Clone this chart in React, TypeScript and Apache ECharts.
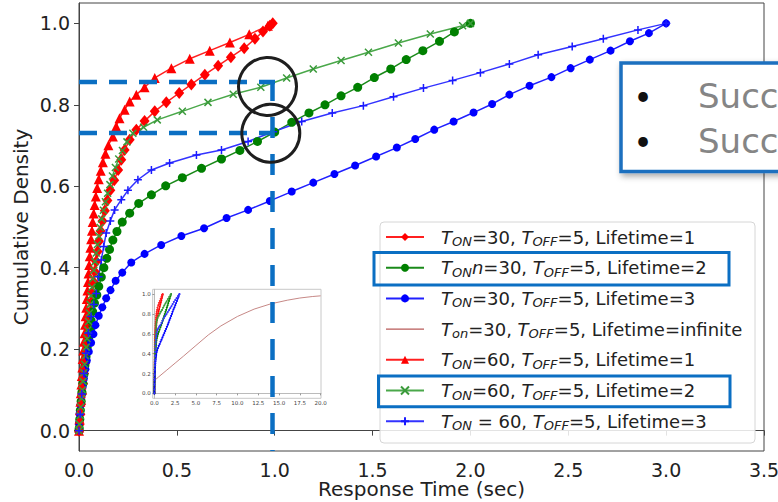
import React, { useEffect, useRef } from 'react';
import * as echarts from 'echarts';

const F = 'DejaVu Sans';

const xTicks = [0, 0.5, 1, 1.5, 2, 2.5, 3, 3.5];
const yTicks = [0, 0.2, 0.4, 0.6, 0.8, 1.0];
const insetXTicks = [0, 2.5, 5, 7.5, 10, 12.5, 15, 17.5, 20];
const insetYTicks = [0, 0.2, 0.4, 0.6, 0.8, 1.0];

const legendNames = [
  'TON=30, TOFF=5, Lifetime=1',
  'TONn=30, TOFF=5, Lifetime=2',
  'TON=30, TOFF=5, Lifetime=3',
  'Ton=30, TOFF=5, Lifetime=infinite',
  'TON=60, TOFF=5, Lifetime=1',
  'TON=60, TOFF=5, Lifetime=2',
  'TON = 60, TOFF=5, Lifetime=3',
];
const legendRich = [
  '{sp| }{i|T}{s|ON}=30, {i|T}{s|OFF}=5, Lifetime=1',
  '{sp| }{i|T}{s|ON}{i|n}=30, {i|T}{s|OFF}=5, Lifetime=2',
  '{sp| }{i|T}{s|ON}=30, {i|T}{s|OFF}=5, Lifetime=3',
  '{sp| }{i|T}{s|on}=30, {i|T}{s|OFF}=5, Lifetime=infinite',
  '{sp| }{i|T}{s|ON}=60, {i|T}{s|OFF}=5, Lifetime=1',
  '{sp| }{i|T}{s|ON}=60, {i|T}{s|OFF}=5, Lifetime=2',
  '{sp| }{i|T}{s|ON} = 60, {i|T}{s|OFF}=5, Lifetime=3',
];

const redDiamond = [
  [0, 0], [0.003, 0.015], [0.007, 0.04], [0.011, 0.065], [0.016, 0.09], [0.021, 0.115],
  [0.026, 0.14], [0.031, 0.165], [0.036, 0.19], [0.041, 0.215], [0.046, 0.24], [0.051, 0.265],
  [0.057, 0.29], [0.063, 0.315], [0.069, 0.34], [0.075, 0.365], [0.081, 0.39], [0.088, 0.415],
  [0.095, 0.44], [0.102, 0.465], [0.11, 0.49], [0.12, 0.515], [0.132, 0.54], [0.145, 0.565],
  [0.16, 0.59], [0.18, 0.615], [0.2, 0.64], [0.216, 0.665], [0.233, 0.689], [0.259, 0.714],
  [0.293, 0.739], [0.335, 0.76], [0.387, 0.784], [0.446, 0.806], [0.512, 0.829], [0.574, 0.85],
  [0.643, 0.874], [0.711, 0.896], [0.776, 0.917], [0.844, 0.939], [0.899, 0.962], [0.94, 0.98],
  [0.975, 0.994], [0.99, 1.0],
];

const greenCircle = [
  [0, 0], [0.001, 0.006], [0.004, 0.028], [0.007, 0.05], [0.011, 0.072], [0.015, 0.094],
  [0.02, 0.116], [0.025, 0.138], [0.03, 0.16], [0.036, 0.182], [0.042, 0.204], [0.048, 0.226],
  [0.055, 0.248], [0.062, 0.27], [0.07, 0.292], [0.079, 0.313], [0.091, 0.333], [0.101, 0.354],
  [0.114, 0.377], [0.127, 0.4], [0.142, 0.423], [0.156, 0.445], [0.173, 0.468], [0.194, 0.489],
  [0.221, 0.512], [0.259, 0.534], [0.305, 0.558], [0.37, 0.579], [0.443, 0.601], [0.528, 0.621],
  [0.626, 0.644], [0.728, 0.667], [0.822, 0.688], [0.912, 0.71], [1.0, 0.733], [1.087, 0.757],
  [1.175, 0.78], [1.257, 0.8], [1.339, 0.822], [1.424, 0.843], [1.509, 0.867], [1.593, 0.888],
  [1.672, 0.911], [1.757, 0.933], [1.842, 0.956], [1.918, 0.979], [2.0, 1.0],
];

const blueCircle = [
  [0, 0], [0.0, 0.019], [0.003, 0.042], [0.008, 0.063], [0.013, 0.085], [0.019, 0.108],
  [0.025, 0.128], [0.033, 0.151], [0.04, 0.172], [0.05, 0.194], [0.062, 0.216], [0.074, 0.237],
  [0.084, 0.259], [0.101, 0.282], [0.119, 0.303], [0.139, 0.325], [0.161, 0.345], [0.187, 0.368],
  [0.221, 0.388], [0.267, 0.413], [0.335, 0.434], [0.42, 0.456], [0.523, 0.478], [0.639, 0.497],
  [0.754, 0.522], [0.864, 0.542], [0.975, 0.564], [1.087, 0.587], [1.197, 0.609], [1.305, 0.63],
  [1.411, 0.651], [1.518, 0.673], [1.624, 0.695], [1.718, 0.716], [1.815, 0.739], [1.914, 0.759],
  [2.016, 0.781], [2.111, 0.802], [2.199, 0.825], [2.302, 0.847], [2.414, 0.868], [2.512, 0.89],
  [2.61, 0.911], [2.716, 0.933], [2.815, 0.956], [2.912, 0.976], [3.0, 1.0],
];

const infinite = [
  [0, 0], [0.02, 0.13], [0.5, 0.165], [1.5, 0.235], [2.5, 0.305], [3.5, 0.375], [5, 0.483],
  [6.5, 0.59], [8, 0.68], [10, 0.776], [12, 0.85], [14, 0.903], [16, 0.94], [17.5, 0.962],
  [19, 0.977], [20, 0.984],
];

const redTriangle = [
  [0, 0], [0.001, 0.008], [0.003, 0.029], [0.005, 0.05], [0.007, 0.071], [0.009, 0.092],
  [0.012, 0.113], [0.014, 0.134], [0.017, 0.155], [0.019, 0.176], [0.022, 0.197], [0.025, 0.218],
  [0.028, 0.239], [0.031, 0.26], [0.034, 0.281], [0.037, 0.302], [0.04, 0.323], [0.043, 0.344],
  [0.046, 0.365], [0.049, 0.386], [0.052, 0.407], [0.055, 0.428], [0.058, 0.449], [0.062, 0.47],
  [0.066, 0.491], [0.07, 0.512], [0.075, 0.533], [0.08, 0.554], [0.086, 0.575], [0.093, 0.596],
  [0.101, 0.617], [0.111, 0.638], [0.122, 0.659], [0.135, 0.68], [0.15, 0.701], [0.173, 0.722],
  [0.19, 0.747], [0.207, 0.767], [0.233, 0.788], [0.259, 0.808], [0.293, 0.825], [0.335, 0.843],
  [0.387, 0.866], [0.472, 0.89], [0.566, 0.913], [0.668, 0.933], [0.771, 0.953], [0.87, 0.973],
  [0.965, 0.994],
];

const greenCross = [
  [0, 0], [0.002, 0.016], [0.006, 0.037], [0.009, 0.058], [0.013, 0.079], [0.017, 0.1],
  [0.021, 0.121], [0.025, 0.142], [0.029, 0.163], [0.033, 0.184], [0.037, 0.205], [0.041, 0.226],
  [0.045, 0.247], [0.049, 0.268], [0.053, 0.289], [0.057, 0.31], [0.061, 0.331], [0.066, 0.352],
  [0.071, 0.373], [0.076, 0.394], [0.082, 0.415], [0.088, 0.436], [0.094, 0.457], [0.101, 0.478],
  [0.108, 0.499], [0.116, 0.52], [0.125, 0.541], [0.135, 0.562], [0.146, 0.583], [0.158, 0.604],
  [0.171, 0.625], [0.186, 0.646], [0.203, 0.667], [0.222, 0.688], [0.245, 0.709], [0.275, 0.73],
  [0.33, 0.745], [0.4, 0.763], [0.528, 0.784], [0.659, 0.806], [0.788, 0.826], [0.929, 0.843],
  [1.061, 0.866], [1.197, 0.888], [1.339, 0.909], [1.479, 0.929], [1.632, 0.952], [1.795, 0.974],
  [1.96, 0.994], [2.0, 1.0],
];

const bluePlus = [
  [0, 0], [0.006, 0.04], [0.014, 0.09], [0.024, 0.14], [0.035, 0.19], [0.048, 0.24],
  [0.062, 0.28], [0.076, 0.31], [0.088, 0.337], [0.1, 0.378], [0.114, 0.419], [0.126, 0.452],
  [0.139, 0.485], [0.16, 0.515], [0.182, 0.542], [0.216, 0.567], [0.25, 0.59], [0.301, 0.616],
  [0.37, 0.64], [0.463, 0.657], [0.6, 0.677], [0.728, 0.689], [0.864, 0.71], [0.992, 0.734],
  [1.138, 0.759], [1.294, 0.78], [1.453, 0.798], [1.607, 0.82], [1.76, 0.841], [1.909, 0.86],
  [2.051, 0.879], [2.199, 0.9], [2.346, 0.923], [2.52, 0.943], [2.679, 0.962], [2.856, 0.984],
  [3.0, 1.0],
];

const CROSS = 'path://M0 0L10 10M10 0L0 10';
const PLUS = 'path://M5 0L5 10M0 5L10 5';

function mainLine(name: string, data: number[][], color: string, lineColor: string, symbol: string, size: any, stroke = false) {
  return {
    type: 'line',
    name,
    xAxisIndex: 0,
    yAxisIndex: 0,
    data,
    symbol,
    symbolSize: size,
    showAllSymbol: true,
    lineStyle: { color: lineColor, width: 1.5 },
    itemStyle: stroke
      ? { color, borderColor: color, borderWidth: 1.5 }
      : { color, borderWidth: 0 },
    emphasis: { disabled: true },
    z: 2,
  };
}

function insetLine(name: string, data: number[][], color: string) {
  return {
    type: 'line',
    name,
    xAxisIndex: 1,
    yAxisIndex: 1,
    data,
    symbol: 'circle',
    symbolSize: 2,
    showAllSymbol: true,
    lineStyle: { color, width: 0.8 },
    itemStyle: { color, borderWidth: 0 },
    emphasis: { disabled: true },
    z: 3,
  };
}

export default function App() {
  const ref = useRef<HTMLDivElement>(null);
  useEffect(() => {
    const chart = echarts.init(ref.current!, null, { renderer: 'svg', width: 778, height: 502 });
    const richMap: Record<string, string> = {};
    legendNames.forEach((n, i) => (richMap[n] = legendRich[i]));
    const blue = '#0b6fc3';
    const option: any = {
      animation: false,
      backgroundColor: '#ffffff',
      grid: [
        { left: 79, top: 3, width: 685, height: 448, show: true, borderColor: '#444', borderWidth: 1, containLabel: false, outerBoundsMode: 'none' },
        { left: 152.7, top: 289.3, width: 168.3, height: 109, show: true, borderColor: '#c8c8c8', borderWidth: 1, backgroundColor: '#ffffff', containLabel: false, outerBoundsMode: 'none' },
      ],
      xAxis: [
        {
          type: 'value', gridIndex: 0, min: 0, max: 3.5,
          axisLine: { show: true, lineStyle: { color: '#444' } },
          axisTick: { show: true, length: 5, customValues: xTicks, lineStyle: { color: '#444' } },
          axisLabel: { customValues: xTicks, formatter: (v: number) => v.toFixed(1), fontSize: 19, lineHeight: 19, color: '#222', fontFamily: F, margin: 9 },
          splitLine: { show: false },
          name: 'Response Time (sec)', nameLocation: 'middle', nameGap: 28, nameMoveOverlap: false,
          nameTextStyle: { fontSize: 20, fontFamily: F, color: '#222', lineHeight: 20 },
        },
        {
          type: 'value', gridIndex: 1, min: -0.2, max: 20.05,
          axisLine: { show: true, lineStyle: { color: '#bbb' } },
          axisTick: { show: true, length: 2, customValues: insetXTicks, lineStyle: { color: '#999' } },
          axisLabel: { customValues: insetXTicks, formatter: (v: number) => v.toFixed(1), fontSize: 5.5, color: '#444', fontFamily: F, margin: 2 },
          splitLine: { show: false },
        },
      ],
      yAxis: [
        {
          type: 'value', gridIndex: 0, min: -0.05, max: 1.05,
          axisLine: { show: true, lineStyle: { color: '#444' } },
          axisTick: { show: true, length: 5, customValues: yTicks, lineStyle: { color: '#444' } },
          axisLabel: { customValues: yTicks, formatter: (v: number) => v.toFixed(1), fontSize: 19, color: '#222', fontFamily: F, margin: 9 },
          splitLine: { show: false },
          name: 'Cumulative Density', nameLocation: 'middle', nameGap: 48, nameMoveOverlap: false,
          nameTextStyle: { fontSize: 20, fontFamily: F, color: '#222' },
        },
        {
          type: 'value', gridIndex: 1, min: -0.05, max: 1.05,
          axisLine: { show: true, lineStyle: { color: '#bbb' } },
          axisTick: { show: true, length: 2, customValues: insetYTicks, lineStyle: { color: '#999' } },
          axisLabel: { customValues: insetYTicks, formatter: (v: number) => v.toFixed(1), fontSize: 5.5, color: '#444', fontFamily: F, margin: 2 },
          splitLine: { show: false },
        },
      ],
      legend: {
        orient: 'vertical',
        left: 385,
        top: 226,
        padding: 0,
        itemGap: 8.7,
        itemWidth: 38,
        itemHeight: 10,
        selectedMode: false,
        z: 6,
        data: legendNames.map((n, i) =>
          i === 3 ? { name: n, icon: 'path://M0 0H40V1.4H0Z' } : { name: n }
        ),
        formatter: (name: string) => richMap[name] || name,
        textStyle: {
          fontSize: 18, fontFamily: F, color: '#222', lineHeight: 22,
          rich: {
            sp: { width: 12 },
            i: { fontStyle: 'italic', fontSize: 18, fontFamily: F, color: '#222', lineHeight: 22 },
            s: { fontStyle: 'italic', fontSize: 13, fontFamily: F, color: '#222', verticalAlign: 'bottom', lineHeight: 12 },
          },
        },
      },
      series: [
        mainLine(legendNames[0], redDiamond, '#ff0000', '#ff2020', 'diamond', [10, 12]),
        mainLine(legendNames[1], greenCircle, '#008000', '#1a8a1a', 'circle', 9),
        mainLine(legendNames[2], blueCircle, '#0000ff', '#2020ff', 'circle', 8),
        {
          type: 'line', name: legendNames[3], xAxisIndex: 1, yAxisIndex: 1, data: infinite,
          symbol: 'none', lineStyle: { color: '#c07a78', width: 0.9 }, itemStyle: { color: '#b85a58' },
          emphasis: { disabled: true }, z: 3,
        },
        mainLine(legendNames[4], redTriangle, '#ff0000', '#ff2020', 'triangle', 10),
        mainLine(legendNames[5], greenCross, '#3a9a3a', '#4aa84a', CROSS, 7, true),
        mainLine(legendNames[6], bluePlus, '#1a1aff', '#3333ff', PLUS, 8, true),
        insetLine('i-redDiamond', redDiamond, '#ff0000'),
        insetLine('i-redTriangle', redTriangle, '#ff2020'),
        insetLine('i-greenCircle', greenCircle, '#008000'),
        insetLine('i-greenCross', greenCross, '#3a9a3a'),
        insetLine('i-blueCircle', blueCircle, '#0000ff'),
        insetLine('i-bluePlus', bluePlus, '#3333ff'),
      ],
      graphic: {
        elements: [
          {
            type: 'rect', z: 4, silent: true,
            shape: { x: 380, y: 222, width: 375, height: 221, r: 4 },
            style: { fill: 'rgba(255,255,255,0.85)', stroke: '#d6d6d6', lineWidth: 1 },
          },
          {
            type: 'rect', z: 30, silent: true,
            shape: { x: 374, y: 252.5, width: 355, height: 32.5 },
            style: { fill: 'none', stroke: blue, lineWidth: 3 },
          },
          {
            type: 'rect', z: 30, silent: true,
            shape: { x: 378.5, y: 376, width: 351.5, height: 30.7 },
            style: { fill: 'none', stroke: blue, lineWidth: 3 },
          },
          {
            type: 'line', z: 30, silent: true,
            shape: { x1: 79, y1: 82, x2: 275, y2: 82 },
            style: { stroke: blue, lineWidth: 4.5, lineDash: [18, 12] },
          },
          {
            type: 'line', z: 30, silent: true,
            shape: { x1: 79, y1: 133, x2: 272, y2: 133 },
            style: { stroke: blue, lineWidth: 4.5, lineDash: [18, 12] },
          },
          {
            type: 'line', z: 30, silent: true,
            shape: { x1: 272.5, y1: 80, x2: 272.5, y2: 451 },
            style: { stroke: blue, lineWidth: 4.5, lineDash: [21, 16] },
          },
          {
            type: 'circle', z: 31, silent: true,
            shape: { cx: 267.5, cy: 86.5, r: 29 },
            style: { fill: 'none', stroke: '#1e1e1e', lineWidth: 3 },
          },
          {
            type: 'circle', z: 31, silent: true,
            shape: { cx: 270.8, cy: 133.3, r: 29 },
            style: { fill: 'none', stroke: '#1e1e1e', lineWidth: 3 },
          },
          {
            type: 'rect', z: 40, silent: true,
            shape: { x: 621, y: 63, width: 190, height: 108.5 },
            style: {
              fill: '#ffffff', stroke: '#1a6fbf', lineWidth: 3.5,
              shadowBlur: 6, shadowColor: 'rgba(0,0,0,0.35)', shadowOffsetX: 2, shadowOffsetY: 3,
            },
          },
          {
            type: 'text', z: 41, silent: true, x: 643, y: 95,
            style: { text: '•', fontSize: 26, fill: '#111', align: 'center', verticalAlign: 'middle', fontFamily: 'Lato' },
          },
          {
            type: 'text', z: 41, silent: true, x: 643, y: 140,
            style: { text: '•', fontSize: 26, fill: '#111', align: 'center', verticalAlign: 'middle', fontFamily: 'Lato' },
          },
          {
            type: 'text', z: 41, silent: true, x: 698, y: 96,
            style: { text: 'Succ', fontSize: 34, fill: '#858585', align: 'left', verticalAlign: 'middle', fontFamily: 'DejaVu Sans' },
          },
          {
            type: 'text', z: 41, silent: true, x: 698, y: 141,
            style: { text: 'Succ', fontSize: 34, fill: '#858585', align: 'left', verticalAlign: 'middle', fontFamily: 'DejaVu Sans' },
          },
        ],
      },
    };
    chart.setOption(option);
    return () => chart.dispose();
  }, []);
  return (
    <div
      ref={ref}
      style={{ position: 'fixed', left: 0, top: 0, width: 778, height: 502, background: '#fff' }}
    />
  );
}
